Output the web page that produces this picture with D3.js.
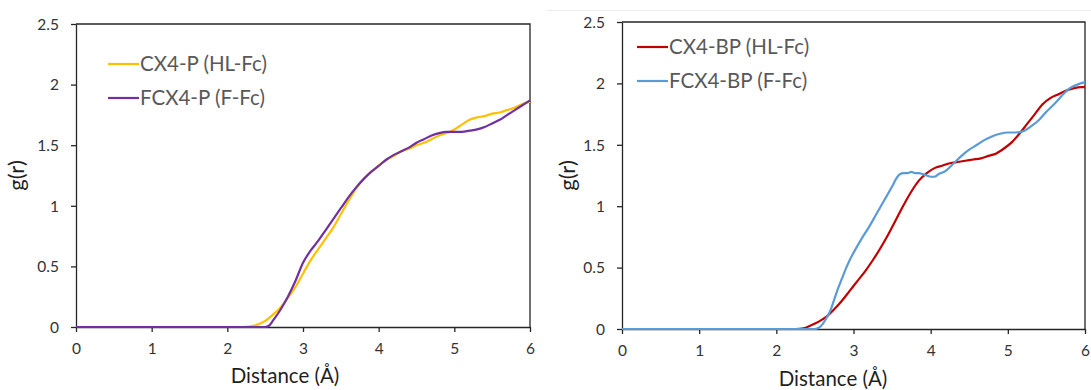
<!DOCTYPE html>
<html>
<head>
<meta charset="utf-8">
<script src="https://cdn.jsdelivr.net/npm/d3@7/dist/d3.min.js"></script>
<style>
  html, body { margin: 0; padding: 0; background: #fff; }
  svg { display: block; font-family: Lato, "Noto Sans", sans-serif; }
</style>
</head>
<body>
<svg id="chart" width="1091" height="390"></svg>
<script>
// Radial distribution functions g(r) of Fc around each host, r in Å
const xTicks = [0, 1, 2, 3, 4, 5, 6];
const yTicks = [0, 0.5, 1, 1.5, 2, 2.5];
const yTickLabels = ["0", "0.5", "1", "1.5", "2", "2.5"];
const xTitle = "Distance (Å)";
const yTitle = "g(r)";

// Left panel: P hosts
const cx4pDist = [0, 2.2, 2.3, 2.4, 2.5, 2.6, 2.7, 2.8, 2.9, 3.0, 3.1, 3.2, 3.3, 3.4, 3.5, 3.6, 3.7, 3.8, 3.9, 4.0,
  4.1, 4.2, 4.3, 4.4, 4.5, 4.6, 4.7, 4.8, 4.9, 5.0, 5.1, 5.2, 5.3, 5.4, 5.5, 5.6, 5.7, 5.8, 5.9, 6.0];
const cx4pG = [0, 0, 0.005, 0.02, 0.05, 0.10, 0.16, 0.24, 0.33, 0.44, 0.55, 0.64, 0.73, 0.82, 0.93, 1.04, 1.14, 1.22, 1.28, 1.33,
  1.38, 1.41, 1.45, 1.47, 1.50, 1.52, 1.55, 1.58, 1.60, 1.63, 1.67, 1.71, 1.73, 1.74, 1.76, 1.77, 1.79, 1.81, 1.84, 1.86];

const fcx4pDist = [0, 2.5, 2.55, 2.6, 2.7, 2.8, 2.9, 3.0, 3.1, 3.2, 3.3, 3.4, 3.5, 3.6, 3.7, 3.8, 3.9, 4.0,
  4.1, 4.2, 4.3, 4.4, 4.5, 4.6, 4.7, 4.8, 4.9, 5.0, 5.1, 5.2, 5.3, 5.4, 5.5, 5.6, 5.7, 5.8, 5.9, 6.0];
const fcx4pG = [0, 0, 0.01, 0.05, 0.14, 0.25, 0.38, 0.53, 0.63, 0.71, 0.80, 0.89, 0.98, 1.07, 1.15, 1.22, 1.28, 1.33,
  1.38, 1.42, 1.45, 1.48, 1.52, 1.55, 1.58, 1.60, 1.61, 1.61, 1.61, 1.62, 1.63, 1.65, 1.68, 1.71, 1.75, 1.79, 1.83, 1.87];

// Right panel: BP hosts
const cx4bpDist = [0, 2.25, 2.35, 2.45, 2.55, 2.65, 2.75, 2.85, 2.95, 3.05, 3.15, 3.25, 3.35, 3.45, 3.55, 3.65, 3.75, 3.85, 3.95,
  4.05, 4.15, 4.25, 4.35, 4.45, 4.55, 4.65, 4.75, 4.85, 4.95, 5.05, 5.15, 5.25, 5.35, 5.45, 5.55, 5.65, 5.75, 5.85, 5.95, 6.0];
const cx4bpG = [0, 0, 0.005, 0.03, 0.06, 0.10, 0.16, 0.23, 0.31, 0.39, 0.47, 0.56, 0.66, 0.77, 0.89, 1.01, 1.12, 1.21, 1.27,
  1.31, 1.33, 1.35, 1.36, 1.37, 1.38, 1.39, 1.41, 1.43, 1.47, 1.52, 1.59, 1.67, 1.75, 1.83, 1.88, 1.91, 1.94, 1.96, 1.97, 1.97];

const fcx4bpDist = [0, 2.5, 2.55, 2.6, 2.65, 2.7, 2.75, 2.8, 2.85, 2.9, 2.95, 3.0, 3.1, 3.2, 3.3, 3.4, 3.5, 3.55, 3.6, 3.65,
  3.7, 3.75, 3.8, 3.85, 3.9, 3.95, 4.0, 4.05, 4.1, 4.2, 4.3, 4.4, 4.5, 4.6, 4.7, 4.8, 4.9, 5.0, 5.1, 5.2, 5.3, 5.4, 5.5,
  5.6, 5.7, 5.8, 5.9, 6.0];
const fcx4bpG = [0, 0, 0.01, 0.04, 0.09, 0.15, 0.24, 0.33, 0.41, 0.49, 0.56, 0.62, 0.73, 0.83, 0.94, 1.05, 1.16, 1.22, 1.26, 1.27,
  1.27, 1.28, 1.27, 1.27, 1.26, 1.25, 1.24, 1.24, 1.26, 1.29, 1.35, 1.41, 1.46, 1.50, 1.54, 1.57, 1.59, 1.60, 1.60, 1.61, 1.65, 1.70, 1.77,
  1.83, 1.90, 1.96, 1.99, 2.01];

const leftNames = ["CX4-P (HL-Fc)", "FCX4-P (F-Fc)"];
const rightNames = ["CX4-BP (HL-Fc)", "FCX4-BP (F-Fc)"];

const zip = (xs, ys) => xs.map((x, i) => ({ x, y: ys[i] }));

const panels = [
  {
    box: { left: 76, right: 530, top: 24, bottom: 327 },
    series: [
      { name: leftNames[0], color: "#FFC000", pts: zip(cx4pDist, cx4pG) },
      { name: leftNames[1], color: "#7030A0", pts: zip(fcx4pDist, fcx4pG) }
    ],
    legend: { x: 108, y: 64 },
    yTitleX: 24,
    xTitleX: 285,
    xTitleY: 383
  },
  {
    box: { left: 622, right: 1085, top: 22, bottom: 329 },
    series: [
      { name: rightNames[0], color: "#C00000", pts: zip(cx4bpDist, cx4bpG) },
      { name: rightNames[1], color: "#5B9BD5", pts: zip(fcx4bpDist, fcx4bpG) }
    ],
    legend: { x: 637, y: 47 },
    yTitleX: 575,
    xTitleX: 833,
    xTitleY: 386
  }
];

const svg = d3.select("#chart");

// faint frame edge along the top of the second figure
svg.append("line")
  .attr("x1", 546).attr("x2", 1091).attr("y1", 10.5).attr("y2", 10.5)
  .attr("stroke", "#eeeeee").attr("stroke-width", 1);

panels.forEach(p => {
  const b = p.box;
  const x = d3.scaleLinear().domain([0, 6]).range([b.left, b.right]);
  const y = d3.scaleLinear().domain([0, 2.5]).range([b.bottom, b.top]);
  const g = svg.append("g");

  // plot frame (top and right edges)
  g.append("path")
    .attr("d", `M${b.left},${b.top}H${b.right}V${b.bottom}`)
    .attr("fill", "none").attr("stroke", "#262626").attr("stroke-width", 1.3);

  const xAxis = g.append("g")
    .attr("transform", `translate(0,${b.bottom})`)
    .call(d3.axisBottom(x).tickValues(xTicks).tickFormat(d3.format("d")).tickSizeInner(5).tickSizeOuter(0).tickPadding(11));
  const yAxis = g.append("g")
    .attr("transform", `translate(${b.left},0)`)
    .call(d3.axisLeft(y).tickValues(yTicks).tickFormat((d, i) => yTickLabels[i]).tickSizeInner(5).tickSizeOuter(0).tickPadding(12));

  [xAxis, yAxis].forEach(a => {
    a.selectAll(".domain").attr("stroke", "#262626").attr("stroke-width", 1.3);
    a.selectAll(".tick line").attr("stroke", "#262626").attr("stroke-width", 1.3);
    a.selectAll(".tick text")
      .attr("fill", "#333333")
      .style("font-family", "Lato, sans-serif")
      .style("font-size", "15.5px");
  });
  yAxis.selectAll(".tick text").attr("dy", "0.34em");

  // data lines, drawn over the axes
  const line = d3.line().x(d => x(d.x)).y(d => y(d.y)).curve(d3.curveMonotoneX);
  p.series.forEach(s => {
    g.append("path")
      .datum(s.pts)
      .attr("d", line)
      .attr("fill", "none")
      .attr("stroke", s.color)
      .attr("stroke-width", 2.2)
      .attr("stroke-linejoin", "round");
  });

  // legend
  p.series.forEach((s, i) => {
    const ly = p.legend.y + i * 34;
    g.append("line")
      .attr("x1", p.legend.x).attr("x2", p.legend.x + 31)
      .attr("y1", ly).attr("y2", ly)
      .attr("stroke", s.color).attr("stroke-width", 2.2);
    g.append("text")
      .attr("x", p.legend.x + 32).attr("y", ly)
      .attr("dy", "0.35em")
      .attr("fill", "#595959")
      .style("font-size", "20.5px")
      .text(s.name);
  });

  // axis titles
  g.append("text")
    .attr("x", p.xTitleX).attr("y", p.xTitleY)
    .attr("text-anchor", "middle")
    .attr("fill", "#1f1f1f")
    .style("font-size", "20.5px")
    .text(xTitle);
  g.append("text")
    .attr("transform", `translate(${p.yTitleX},${(b.top + b.bottom) / 2}) rotate(-90)`)
    .attr("text-anchor", "middle")
    .attr("fill", "#1f1f1f")
    .style("font-size", "22px")
    .text(yTitle);
});
</script>
</body>
</html>
